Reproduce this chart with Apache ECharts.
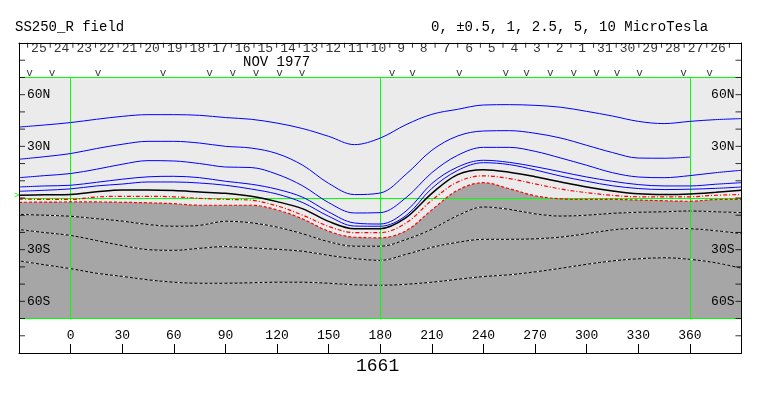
<!DOCTYPE html>
<html>
<head>
<meta charset="utf-8">
<script src="https://cdn.jsdelivr.net/npm/echarts@6/dist/echarts.min.js"></script>
<style>
html,body{margin:0;padding:0;background:#fff;}
#chart{width:763px;height:396px;}
</style>
</head>
<body>
<div id="chart"></div>
<script>
// ---------------- data ----------------
const lons = [-30,-15,0,15,30,45,60,75,90,105,120,135,150,165,180,195,210,225,240,255,270,285,300,315,330,345,360,375,390];

const blue1 = [41.2,42.4,43.8,45.7,47.4,48.4,48.4,48.0,46.7,45.7,43.5,40.3,35.8,31.0,34.8,42.6,48.6,51.5,54.0,54.2,53.8,52.7,50.3,47.6,44.5,43.2,44.5,45.5,46.1];
const blue2 = [22.5,24.0,25.8,28.7,31.2,32.9,32.9,31.9,30.0,29.0,25.8,19.0,8.5,2.0,2.9,13.8,27.7,36.0,38.9,39.1,37.6,34.8,30.6,26.4,23.2,23.1,23.8,null,null];
const blue3 = [11.8,13.0,14.2,16.7,19.6,21.7,21.5,20.0,18.0,17.7,13.8,7.0,-2.7,-8.7,-8.5,0.2,14.7,24.8,29.4,29.4,27.1,23.2,19.0,14.7,12.2,11.8,13.0,14.7,16.1];
const blue4 = [6.4,7.0,7.4,9.1,10.9,12.3,12.6,11.8,9.7,8.0,5.1,0.4,-8.1,-14.5,-15.1,-7.6,8.4,18.0,21.9,20.7,18.2,15.2,12.2,9.7,7.8,7.0,7.0,8.0,8.9];
const blue5 = [3.9,4.5,5.3,7.0,8.1,9.3,9.3,8.7,7.4,5.2,2.3,-2.7,-10.6,-16.3,-16.4,-10.2,5.6,16.0,20.5,19.4,16.3,12.7,9.7,7.1,5.5,4.9,5.1,5.6,6.4];
const blackLine = [1.6,1.9,2.1,3.6,4.6,4.6,4.3,3.5,2.7,1.0,-2.1,-6.3,-13.6,-17.9,-17.8,-11.4,2.7,13.6,16.4,15.0,12.4,9.3,6.4,4.1,2.4,2.0,2.3,3.3,4.5];
const red1 = [-0.6,-0.8,-0.8,0.6,1.0,1.0,0.7,-0.2,-0.8,-1.3,-4.6,-10.0,-16.5,-20.1,-20.1,-14.5,-1.3,9.3,12.9,11.3,8.2,5.2,3.1,1.5,0.7,0.6,0.7,1.6,2.0];
const red2 = [-2.5,-2.4,-2.3,-2.3,-2.5,-2.8,-3.3,-4.2,-4.2,-4.2,-6.9,-12.2,-19.3,-22.8,-23.1,-19.0,-6.9,4.5,8.9,5.4,1.3,-0.5,-0.8,-0.8,-1.2,-1.6,-1.9,-0.9,-0.8];
const white1 = [-9.5,-10.0,-10.6,-12.0,-13.4,-15.4,-16.4,-15.9,-13.5,-14.4,-16.9,-20.8,-25.4,-28.0,-28.0,-24.1,-18.1,-10.2,-5.2,-6.6,-9.2,-10.5,-10.0,-8.9,-8.3,-8.0,-7.5,-8.0,-8.5];
const white2 = [-18.3,-20.1,-21.7,-24.7,-27.6,-30.0,-30.4,-29.2,-28.2,-29.0,-29.8,-30.9,-33.3,-35.2,-36.2,-32.7,-28.6,-25.7,-24.0,-24.0,-23.7,-22.7,-20.7,-18.5,-17.6,-17.6,-17.8,-19.0,-20.7];
const white3 = [-36.5,-38.8,-41.0,-43.7,-45.5,-47.5,-48.9,-49.5,-49.5,-49.2,-48.9,-48.9,-49.5,-50.4,-50.7,-50.1,-48.9,-47.2,-45.6,-44.6,-42.9,-40.8,-38.5,-36.5,-35.3,-34.7,-35.6,-37.6,-40.8];

const lonRange = [-30, 390];
const plotLat = [-70, 70];
const boxLat = [-90, 90];
const latTickStep = 10;
const greenLons = [0, 180, 360];
const greenLats = [0, 70, -70];
const lonTickLabels = [0,30,60,90,120,150,180,210,240,270,300,330,360];
const latTickLabels = {60:'60N', 30:'30N', '-30':'30S', '-60':'60S'};

const dayLabels = ['25','24','23','22','21','20','19','18','17','16','15','14','13','12','11','10','9','8','7','6','5','4','3','2','1','31','30','29','28','27','26'];
const firstDayLon = -25.0;
const dayStepLon = 13.16;
const obsLons = [-23.8,-10.8,15.9,53.7,80.7,94.3,107.8,121.4,134.5,186.8,198.8,225.9,253.0,265.0,278.9,292.5,305.7,317.6,330.8,356.3,371.4];

// ---------------- chart ----------------
const FONT = 'Liberation Mono, DejaVu Sans Mono, monospace';
const pair = arr => lons.map((l, i) => [l, arr[i]]);

const chart = echarts.init(document.getElementById('chart'), null, {renderer: 'canvas'});

function contour(name, arr, color, width, type, z) {
  return {
    name, type: 'line', data: pair(arr), smooth: 0.35, symbol: 'none',
    connectNulls: false, silent: true, z: z || 5,
    lineStyle: {color, width, type}
  };
}

const dayBoundaries = [];
for (let i = 0; i <= dayLabels.length; i++) dayBoundaries.push(firstDayLon + i * dayStepLon);
const latTicks = [];
for (let v = boxLat[0] + latTickStep; v < boxLat[1]; v += latTickStep) latTicks.push(v);

const axisCommonY = {
  type: 'value', min: boxLat[0], max: boxLat[1], interval: latTickStep, z: 20,
  axisLine: {show: true, onZero: false, lineStyle: {color: '#000', width: 1}},
  axisTick: {show: false},
  splitLine: {show: false},
};

const option = {
  animation: false,
  backgroundColor: '#fff',
  grid: {left: 19, right: 21.5, top: 43, bottom: 43, show: false},
  xAxis: [{
    type: 'value', min: lonRange[0], max: lonRange[1], interval: 30, position: 'bottom', z: 20,
    axisLine: {show: true, onZero: false, lineStyle: {color: '#000'}},
    axisTick: {show: true, inside: true, length: 9, lineStyle: {color: '#000', width: 1}},
    axisLabel: {inside: true, margin: 11, color: '#000', fontFamily: FONT, fontSize: 13,
      formatter: v => lonTickLabels.indexOf(v) >= 0 ? String(v) : ''},
    splitLine: {show: false}
  }, {
    type: 'value', min: lonRange[0], max: lonRange[1], position: 'top', z: 20,
    axisLine: {show: true, onZero: false, lineStyle: {color: '#000'}},
    axisTick: {show: false}, axisLabel: {show: false}, splitLine: {show: false}
  }],
  yAxis: [
    Object.assign({}, axisCommonY, {position: 'left',
      axisLabel: {inside: true, margin: 8, color: '#000', fontFamily: FONT, fontSize: 13,
        formatter: v => latTickLabels[v] || ''}}),
    Object.assign({}, axisCommonY, {position: 'right',
      axisLabel: {inside: true, margin: 7, color: '#000', fontFamily: FONT, fontSize: 13,
        formatter: v => latTickLabels[v] || ''}})
  ],
  graphic: [
    {type: 'text', left: 15, top: 20, style: {text: 'SS250_R field', font: '14px ' + FONT, fill: '#000'}},
    {type: 'text', left: 431, top: 20, style: {text: '0, \u00B10.5, 1, 2.5, 5, 10 MicroTesla', font: '14px ' + FONT, fill: '#000'}},
    {type: 'text', left: 243, top: 55, style: {text: 'NOV 1977', font: '14px ' + FONT, fill: '#000'}},
    {type: 'text', left: 14, top: 191, style: {text: '>', font: '9px ' + FONT, fill: '#00ff00'}},
    {type: 'text', left: 356, top: 357, style: {text: '1661', font: '18px ' + FONT, fill: '#000'}}
  ],
  series: [
    {type: 'line', data: [[lonRange[0], plotLat[1]], [lonRange[1], plotLat[1]]], symbol: 'none', silent: true, z: 1,
      lineStyle: {width: 0, opacity: 0}, areaStyle: {color: '#ebebeb', origin: plotLat[0], opacity: 1}},
    {type: 'line', data: pair(red2), smooth: 0.35, symbol: 'none', silent: true, z: 2,
      lineStyle: {width: 0, opacity: 0}, areaStyle: {color: '#a6a6a6', origin: plotLat[0], opacity: 1}},
    contour('b1', blue1, '#0000ff', 1, 'solid'),
    contour('b2', blue2, '#0000ff', 1, 'solid'),
    contour('b3', blue3, '#0000ff', 1, 'solid'),
    contour('b4', blue4, '#0000ff', 1, 'solid'),
    contour('b5', blue5, '#0000ff', 1, 'solid'),
    contour('k', blackLine, '#000000', 1.5, 'solid'),
    contour('r1', red1, '#ff0000', 1.2, [4, 2, 1, 2]),
    contour('r2', red2, '#ff0000', 1.2, [3, 2]),
    contour('w1b', white1, '#000000', 1, 'solid', 4),
    contour('w1', white1, '#ffffff', 1, [2, 3], 5),
    contour('w2b', white2, '#000000', 1, 'solid', 4),
    contour('w2', white2, '#ffffff', 1, [2, 3], 5),
    contour('w3b', white3, '#000000', 1, 'solid', 4),
    contour('w3', white3, '#ffffff', 1, [2, 3], 5),
    {type: 'line', data: [], z: 8, silent: true,
      markLine: {silent: true, symbol: 'none', animation: false, label: {show: false},
        lineStyle: {color: '#00ff00', width: 1, type: 'solid'},
        data: greenLats.map(v => [{coord: [lonRange[0], v]}, {coord: [lonRange[1], v]}])
          .concat(greenLons.map(v => [{coord: [v, plotLat[0]]}, {coord: [v, plotLat[1]]}]))}},
    // latitude ticks on the left and right frame edges
    {type: 'scatter', data: latTicks.map(v => [lonRange[0], v]), symbol: 'rect', symbolSize: [6, 1],
      symbolOffset: [3, 0], itemStyle: {color: '#000'}, silent: true, z: 12},
    {type: 'scatter', data: latTicks.map(v => [lonRange[1], v]), symbol: 'rect', symbolSize: [6, 1],
      symbolOffset: [-3, 0], itemStyle: {color: '#000'}, silent: true, z: 12},
    // day boundary ticks (top strip)
    {type: 'scatter', data: dayBoundaries.map(l => [l, 88.7]), symbol: 'rect', symbolSize: [1, 5],
      itemStyle: {color: '#000'}, silent: true, z: 6},
    {type: 'scatter', symbolSize: 0, silent: true, z: 6,
      data: dayLabels.map((d, i) => ({name: d, value: [firstDayLon + (i + 0.5) * dayStepLon, 86.5]})),
      label: {show: true, position: 'inside', formatter: p => p.name, color: '#000', fontFamily: FONT, fontSize: 13}},
    {type: 'scatter', symbolSize: 0, silent: true, z: 6,
      data: obsLons.map(l => ({name: 'v', value: [l, 72.4]})),
      label: {show: true, position: 'inside', formatter: 'v', color: '#000', fontFamily: FONT, fontSize: 11}}
  ]
};
chart.setOption(option);
</script>
</body>
</html>
